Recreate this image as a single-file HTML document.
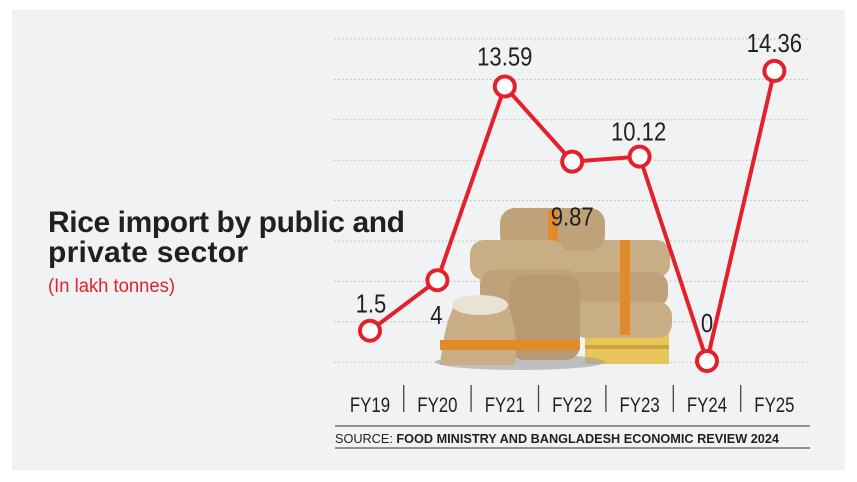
<!DOCTYPE html>
<html><head><meta charset="utf-8"><style>
html,body{margin:0;padding:0;background:#fff;}
svg{display:block;font-family:"Liberation Sans",sans-serif;}
</style></head><body>
<svg width="857" height="482" viewBox="0 0 857 482">
<rect x="0" y="0" width="857" height="482" fill="#fff"/>
<rect x="12" y="10" width="833" height="460" fill="#f1f2f4"/>
<g id="grid"></g>
<text x="48" y="232" font-size="30" font-weight="bold" fill="#231f20" textLength="357">Rice import by public and</text>
<text x="48" y="262" font-size="30" font-weight="bold" fill="#231f20" textLength="200">private sector</text>
<text x="48" y="292" font-size="19" fill="#e4202a" textLength="127" lengthAdjust="spacingAndGlyphs">(In lakh tonnes)</text>
<g>
<rect x="585" y="330" width="84" height="34" fill="#e8c55a"/>
<rect x="585" y="345" width="84" height="4" fill="#c9a43d"/>
<ellipse cx="520" cy="362" rx="85" ry="8" fill="#9d9d9d" opacity="0.6"/>
<rect x="560" y="240" width="110" height="38" rx="14" fill="#c8ad85"/>
<rect x="568" y="272" width="100" height="36" rx="14" fill="#bfa27a"/>
<rect x="572" y="302" width="100" height="36" rx="14" fill="#c8ad85"/>
<rect x="500" y="208" width="105" height="42" rx="15" fill="#bfa27a"/>
<rect x="548" y="210" width="10" height="40" fill="#e08a2a"/>
<rect x="470" y="240" width="95" height="40" rx="14" fill="#c8ad85"/>
<rect x="480" y="270" width="100" height="40" rx="14" fill="#bfa27a"/>
<rect x="510" y="275" width="70" height="85" rx="14" fill="#b89a70"/>
<path d="M440 365 Q445 320 455 305 Q480 290 505 300 Q520 330 515 365 Z" fill="#c8ad85"/>
<ellipse cx="480" cy="305" rx="28" ry="10" fill="#e9e3d3"/>
<rect x="440" y="340" width="140" height="10" fill="#e08a2a"/>
<rect x="620" y="240" width="10" height="95" fill="#e08a2a"/>
</g>
<g id="chart"></g>
<g id="xaxis"></g>
<line x1="335" y1="426" x2="810" y2="426" stroke="#333" stroke-width="1"/>
<text x="335" y="443" font-size="12.5" fill="#231f20" textLength="444" lengthAdjust="spacingAndGlyphs">SOURCE: <tspan font-weight="bold">FOOD MINISTRY AND BANGLADESH ECONOMIC REVIEW 2024</tspan></text>
<line x1="335" y1="448" x2="810" y2="448" stroke="#333" stroke-width="1"/>
</svg>
<script>
const categories = ["FY19","FY20","FY21","FY22","FY23","FY24","FY25"];
const values = [1.5, 4, 13.59, 9.87, 10.12, 0, 14.36];
const valueLabels = ["1.5","4","13.59","9.87","10.12","0","14.36"];
const NS = "http://www.w3.org/2000/svg";
function xPos(i){ return 370 + i * 67.4; }
function yPos(v){ return 361 - v * 20.2; }
function mk(tag, attrs, parent){ const e=document.createElementNS(NS,tag); for(const k in attrs) e.setAttribute(k,attrs[k]); parent.appendChild(e); return e; }
function condense(t, f){ const w=t.getComputedTextLength(); t.setAttribute('textLength', (w*f).toFixed(1)); t.setAttribute('lengthAdjust','spacingAndGlyphs'); }
const grid = document.getElementById('grid');
for(let k=0;k<9;k++){
  const y = 39 + k*40.4;
  const l = mk('line',{x1:334,x2:810,y1:y,y2:y,stroke:'#b5b7ba','stroke-width':1,'stroke-dasharray':'1.5 2.5'},grid);
  
  
}
const chart = document.getElementById('chart');
const pts = values.map((v,i)=>xPos(i)+','+yPos(v)).join(' ');
const pl = mk('polyline',{points:pts,fill:'none',stroke:'#e4202a','stroke-width':4,'stroke-linejoin':'round'},chart);


const labelOffsets = [[1,-18],[-1,44],[0,-21],[0,64],[-1,-16],[0,-29],[0,-19]];
values.forEach((v,i)=>{
  const c = mk('circle',{cx:xPos(i),cy:yPos(v),r:10,fill:'#fff',stroke:'#e4202a','stroke-width':4},chart);
  
  
  const o = labelOffsets[i];
  const t = mk('text',{x:xPos(i)+o[0],y:yPos(v)+o[1],'font-size':26,'text-anchor':'middle',fill:'#231f20'},chart);
  t.textContent = valueLabels[i];
  
  
  condense(t, 0.85);
});
const xa = document.getElementById('xaxis');
categories.forEach((c,i)=>{
  const t = mk('text',{x:xPos(i),y:412,'font-size':21,'text-anchor':'middle',fill:'#231f20'},xa);
  t.textContent = c;
  
  
  condense(t, 0.8);
  if(i>0){
    const s = mk('line',{x1:xPos(i)-33.7,x2:xPos(i)-33.7,y1:385,y2:412,stroke:'#444','stroke-width':1.3},xa);
    
    
  }
});
</script>
</body></html>
